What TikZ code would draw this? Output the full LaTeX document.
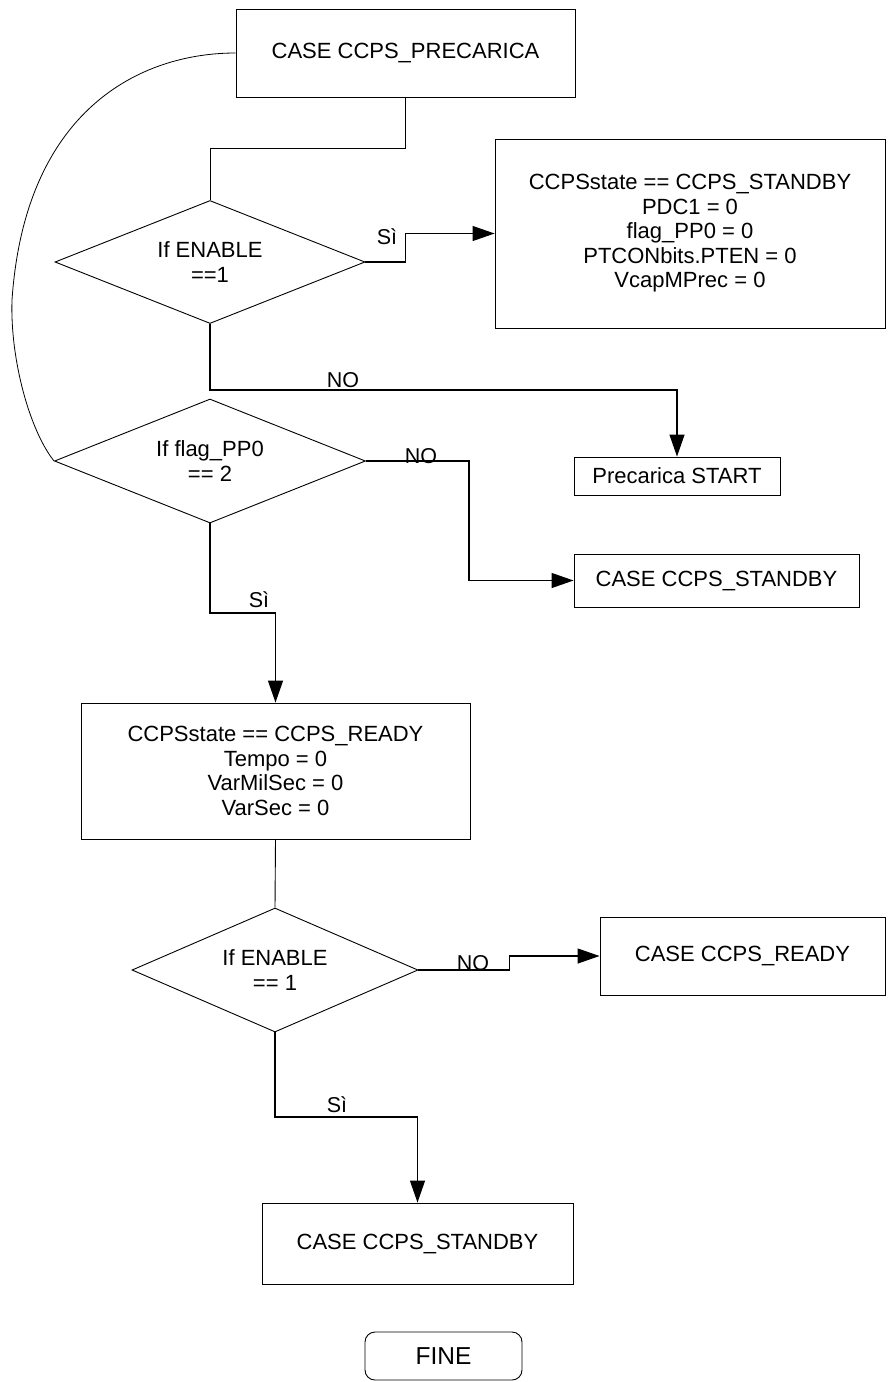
\documentclass[tikz,border=0pt]{standalone}
\usepackage{fontspec}
\setmainfont{Liberation Sans}
\usetikzlibrary{shapes.geometric,arrows.meta}
\begin{document}
\begin{tikzpicture}[x=1pt,y=-1pt,
  every node/.style={font=\fontsize{22}{24.5}\selectfont},
  box/.style={draw, line width=0.9pt, rectangle, inner sep=0pt, align=center},
  decision/.style={draw, line width=0.9pt, diamond, shape aspect=2.5, inner sep=0pt, align=center},
  flow/.style={line width=0.9pt},
  arrowflow/.style={line width=1.2pt, -{Triangle[length=22pt,width=15pt]}},
  lbl/.style={inner sep=0pt, font=\fontsize{21.5}{24}\selectfont}
]
\useasboundingbox (0,0) rectangle (887,1382);

% boxes
\node[box, minimum width=339pt, minimum height=88pt] (b1) at (405.5,53) {CASE CCPS\_PRECARICA};
\node[box, minimum width=390pt, minimum height=189pt] (b2) at (690,233.5)
  {CCPSstate == CCPS\_STANDBY\\PDC1 = 0\\flag\_PP0 = 0\\PTCONbits.PTEN = 0\\VcapMPrec = 0};
\node[box, minimum width=206pt, minimum height=38pt] (b3) at (677,476) {Precarica START};
\node[box, minimum width=285pt, minimum height=53pt] (b4) at (716.5,580.5) {CASE CCPS\_STANDBY};
\node[box, minimum width=389pt, minimum height=136pt] (b5) at (275.5,771)
  {CCPSstate == CCPS\_READY\\Tempo = 0\\VarMilSec = 0\\VarSec = 0};
\node[box, minimum width=285pt, minimum height=78pt] (b6) at (742.5,956) {CASE CCPS\_READY};
\node[box, minimum width=311pt, minimum height=81pt] (b7) at (417.5,1243.5) {CASE CCPS\_STANDBY};
\node[box, rounded corners=10pt, minimum width=157pt, minimum height=48pt,
  font=\fontsize{24.5}{28}\selectfont] (fine) at (443.5,1356) {FINE};

% decisions
\node[decision, minimum width=310pt, minimum height=123pt] (d1) at (210,262) {If ENABLE\\==1};
\node[decision, minimum width=311pt, minimum height=124pt] (d2) at (210,461) {If flag\_PP0\\== 2};
\node[decision, minimum width=286pt, minimum height=124pt] (d3) at (275,970) {If ENABLE\\== 1};

% bend points
\coordinate (j1) at (405.5,148);
\coordinate (j2) at (405.5,233.5);
\coordinate (j3) at (677,390);
\coordinate (j4) at (469,580.5);
\coordinate (j5) at (275.5,613);
\coordinate (j6) at (509.5,970);
\coordinate (j7) at (417.5,1117);

% connectors
\draw[flow] (b1.south) -- (j1) -| (d1.north);
\draw[arrowflow] (d1.east) -| (j2) -- (b2.west);
\draw[arrowflow] (d1.south) |- (j3) -- (b3.north);
\draw[line width=0.8pt] (b1.west) .. controls (140,53) and (25,110) .. (12,300)
  .. controls (10,360) and (30,431) .. (d2.west);
\draw[arrowflow] (d2.east) -| (j4) -- (b4.west);
\draw[arrowflow] (d2.south) |- (j5) -- (b5.north);
\draw[flow] (b5.south) -- (d3.north);
\draw[arrowflow] (d3.east) -- (j6) |- (b6.west);
\draw[arrowflow] (d3.south) |- (j7) -- (b7.north);

% branch labels
\node[lbl] (l1) at (387,237) {Sì};
\node[lbl] (l2) at (343,380) {NO};
\node[lbl] (l3) at (421,456) {NO};
\node[lbl] (l4) at (259,600) {Sì};
\node[lbl] (l5) at (473,963) {NO};
\node[lbl] (l6) at (337,1105) {Sì};
\end{tikzpicture}
\end{document}
